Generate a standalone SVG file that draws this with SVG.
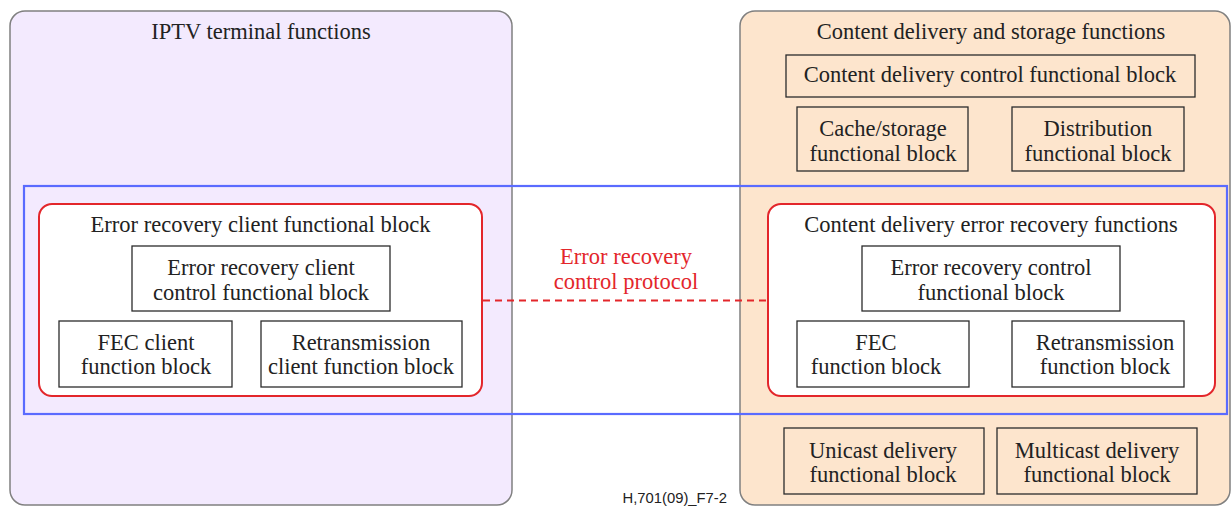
<svg xmlns="http://www.w3.org/2000/svg" width="1231" height="506" viewBox="0 0 1231 506">
<style>
text{font-family:"Liberation Serif","Times New Roman",serif;font-size:22.5px;fill:#222;text-anchor:middle}
.big{stroke:#808080;stroke-width:1.5}
.blk{fill:none;stroke:#2b2b2b;stroke-width:1.3}
.wblk{fill:#fff;stroke:#2b2b2b;stroke-width:1.3}
.red{fill:#fff;stroke:#e3262b;stroke-width:2}
.rt{fill:#e3262b}
</style>
<rect width="1231" height="506" fill="#fff"/>
<g id="iptv">
<rect class="big" x="10" y="11" width="502" height="494" rx="15" fill="#f3eafe"/>
<text x="261" y="39">IPTV terminal functions</text>
</g>
<g id="cdsf">
<rect class="big" x="740" y="11" width="490" height="494" rx="15" fill="#fde5cd"/>
<text x="991" y="39">Content delivery and storage functions</text>
</g>
<g id="cdcfb">
<rect class="blk" x="786" y="55" width="409" height="42"/>
<text x="990" y="82">Content delivery control functional block</text>
</g>
<g id="cache">
<rect class="blk" x="797" y="107" width="171" height="64"/>
<text x="883" y="136">Cache/storage</text>
<text x="883" y="161">functional block</text>
</g>
<g id="distribution">
<rect class="blk" x="1012" y="107" width="172" height="64"/>
<text x="1098" y="136">Distribution</text>
<text x="1098" y="161">functional block</text>
</g>
<g id="scope">
<rect x="24" y="186" width="1203" height="228" fill="none" stroke="#5a6bff" stroke-width="2.2"/>
</g>
<g id="erclient">
<rect class="red" x="39" y="204" width="443" height="192" rx="13"/>
<text x="260.5" y="232">Error recovery client functional block</text>
</g>
<g id="erclientctl">
<rect class="wblk" x="132" y="246" width="258" height="65"/>
<text x="261" y="275">Error recovery client</text>
<text x="261" y="299.5">control functional block</text>
</g>
<g id="fecclient">
<rect class="wblk" x="59" y="321" width="173" height="66"/>
<text x="146" y="349.5">FEC client</text>
<text x="146" y="374">function block</text>
</g>
<g id="retxclient">
<rect class="wblk" x="261" y="321" width="201" height="66"/>
<text x="361" y="349.5">Retransmission</text>
<text x="361" y="374">client function block</text>
</g>
<g id="cderf">
<rect class="red" x="768" y="204" width="447" height="192" rx="13"/>
<text x="991" y="232">Content delivery error recovery functions</text>
</g>
<g id="erctl">
<rect class="wblk" x="862" y="246" width="258" height="65"/>
<text x="991" y="275">Error recovery control</text>
<text x="991" y="299.5">functional block</text>
</g>
<g id="fec">
<rect class="wblk" x="797" y="321" width="172" height="66"/>
<text x="876" y="349.5">FEC</text>
<text x="876" y="374">function block</text>
</g>
<g id="retx">
<rect class="wblk" x="1012" y="321" width="172" height="66"/>
<text x="1105" y="349.5">Retransmission</text>
<text x="1105" y="374">function block</text>
</g>
<g id="unicast">
<rect class="blk" x="784" y="428" width="200" height="66"/>
<text x="883" y="458">Unicast delivery</text>
<text x="883" y="482">functional block</text>
</g>
<g id="multicast">
<rect class="blk" x="997" y="428" width="200" height="66"/>
<text x="1097" y="458">Multicast delivery</text>
<text x="1097" y="482">functional block</text>
</g>
<g id="connectors">
<line x1="483" y1="300.5" x2="768" y2="300.5" stroke="#e3262b" stroke-width="2" stroke-dasharray="7,5"/>
<text class="rt" x="626" y="264">Error recovery</text>
<text class="rt" x="626" y="288.5">control protocol</text>
</g>
<text x="727" y="503" style="font-family:'Liberation Sans',Arial,sans-serif;font-size:14.8px;text-anchor:end;fill:#222">H,701(09)_F7-2</text>
</svg>
